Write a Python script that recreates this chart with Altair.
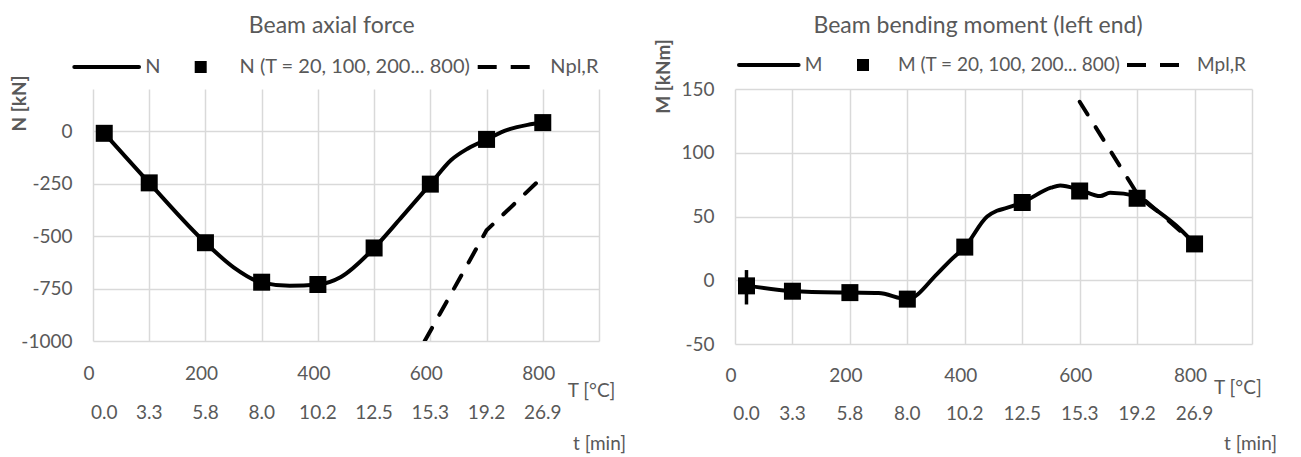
import altair as alt
import pandas as pd

# ---------------- data ----------------
N_curve_T = [20, 100, 200, 250, 300, 350, 400, 441, 500, 547, 600, 637, 667, 700, 737, 773, 800]
N_curve = [-10, -247, -532, -649, -722, -737, -731, -695, -557, -416, -253, -138, -83, -40, 5, 29, 40]
N_mark_T = [20, 100, 200, 300, 400, 500, 600, 700, 800]
N_mark = [-11, -247, -532, -720, -731, -557, -253, -40, 40]
Npl_T = [590, 700, 800]
Npl = [-1000, -473, -218]

M_curve_T = [20, 100, 200, 250, 300, 352, 375, 400, 439, 456, 473, 500, 550, 566, 600, 636, 653, 700, 723, 775, 800]
M_curve = [-4, -8.6, -9.7, -10, -14.8, 5, 15.6, 26, 50, 54.5, 56.7, 61, 72.6, 74.4, 71, 66, 68.7, 66, 58.4, 40, 28.5]
M_mark_T = [20, 100, 200, 300, 400, 500, 600, 700, 800]
M_mark = [-4.4, -8.6, -9.7, -14.8, 26, 61, 70, 64.3, 28.5]
M_spike_T = [20]
M_spike_lo = [-19]
M_spike_hi = [8]
Mpl_T = [600, 700, 800]
Mpl = [140, 68, 29]

T_tick_values = [0, 200, 400, 600, 800]
T_tick_labels = ["0", "200", "400", "600", "800"]
time_T = [20, 100, 200, 300, 400, 500, 600, 700, 800]
time_labels = ["0.0", "3.3", "5.8", "8.0", "10.2", "12.5", "15.3", "19.2", "26.9"]

N_ticks = [-1000, -750, -500, -250, 0]
M_ticks = [-50, 0, 50, 100, 150]

FONT = "Lato"
GREY = "#595959"
GRID = "#d9d9d9"
DUMMY = alt.Data(values=[{"d": 0}])


def panel(curve_T, curve_v, mark_T, mark_v, pl_T, pl_v, ydom, yticks, ytitle,
          title_x, title_y, title, W, H, lg, labels, xlab, spike=None):
    xs = alt.Scale(domain=[0, 900], nice=False, zero=False)
    ys = alt.Scale(domain=ydom, nice=False, zero=False)
    x_enc = alt.X("T:Q", scale=xs, axis=alt.Axis(
        values=list(range(0, 1000, 100)), labels=False, ticks=False, domain=False,
        grid=True, gridColor=GRID, gridWidth=1.5, title=None))
    y_axis = alt.Axis(
        values=yticks, grid=True, gridColor=GRID, gridWidth=1.5, ticks=False,
        domain=False, labelPadding=21, labelFont=FONT, labelFontSize=19,
        labelColor=GREY, labelExpr="'' + datum.value",
        title=ytitle, titleX=title_x, titleY=title_y,
        titleFont=FONT, titleFontSize=19, titleFontWeight="bold",
        titleColor=GREY, titleAlign="center", titleBaseline="middle")
    y_enc = alt.Y("v:Q", scale=ys, axis=y_axis)

    df_curve = pd.DataFrame({"T": curve_T, "v": curve_v})
    df_mark = pd.DataFrame({"T": mark_T, "v": mark_v})
    df_pl = pd.DataFrame({"T": pl_T, "v": pl_v})
    df_tl = pd.DataFrame({"T": T_tick_values, "lab": T_tick_labels})
    df_time = pd.DataFrame({"T": time_T, "lab": time_labels})

    layers = []
    layers.append(alt.Chart(df_curve).mark_line(
        color="black", strokeWidth=4, interpolate="monotone", strokeJoin="round"
    ).encode(x=x_enc, y=y_enc))
    if spike is not None:
        df_sp = pd.DataFrame({"T": spike[0], "v": spike[1], "v2": spike[2]})
        layers.append(alt.Chart(df_sp).mark_rule(color="black", strokeWidth=3.5).encode(
            x=x_enc, y=y_enc, y2="v2:Q"))
    layers.append(alt.Chart(df_pl).mark_line(
        color="black", strokeWidth=4, strokeDash=[15, 15], strokeCap="round", clip=True
    ).encode(x=x_enc, y=y_enc))
    layers.append(alt.Chart(df_mark).mark_point(
        shape="square", filled=True, size=289, color="black", opacity=1
    ).encode(x=x_enc, y=y_enc))
    # x-axis label rows
    layers.append(alt.Chart(df_tl).mark_text(
        font=FONT, fontSize=19, color=GREY, baseline="middle", align="center", dx=-4
    ).encode(x=x_enc, y=alt.value(H + labels[0]), text="lab:N"))
    layers.append(alt.Chart(df_time).mark_text(
        font=FONT, fontSize=19, color=GREY, baseline="middle", align="center"
    ).encode(x=x_enc, y=alt.value(H + labels[1]), text="lab:N"))
    layers.append(alt.Chart(DUMMY).mark_text(
        font=FONT, fontSize=19, color=GREY, baseline="middle", align="left"
    ).encode(x=alt.value(xlab[0]), y=alt.value(H + labels[2]), text=alt.value("T [°C]")))
    layers.append(alt.Chart(DUMMY).mark_text(
        font=FONT, fontSize=19, color=GREY, baseline="middle", align="left"
    ).encode(x=alt.value(xlab[1]), y=alt.value(H + labels[3]), text=alt.value("t [min]")))
    # title
    layers.append(alt.Chart(DUMMY).mark_text(
        font=FONT, fontSize=23, color=GREY, baseline="alphabetic", align="center"
    ).encode(x=alt.value(title[0]), y=alt.value(-56.5), text=alt.value(title[1])))
    # legend
    ly = lg["y"]
    fs = lg["fs"]
    layers.append(alt.Chart(DUMMY).mark_rule(color="black", strokeWidth=4, strokeCap="round").encode(
        x=alt.value(lg["line"][0]), x2=alt.value(lg["line"][1]), y=alt.value(ly)))
    layers.append(alt.Chart(DUMMY).mark_text(
        font=FONT, fontSize=fs, color=GREY, baseline="middle", align="left"
    ).encode(x=alt.value(lg["t1"]), y=alt.value(ly), text=alt.value(lg["s1"])))
    layers.append(alt.Chart(DUMMY).mark_point(
        shape="square", filled=True, size=144, color="black", opacity=1
    ).encode(x=alt.value(lg["sq"]), y=alt.value(ly)))
    layers.append(alt.Chart(DUMMY).mark_text(
        font=FONT, fontSize=fs, color=GREY, baseline="middle", align="left"
    ).encode(x=alt.value(lg["t2"]), y=alt.value(ly), text=alt.value(lg["s2"])))
    layers.append(alt.Chart(DUMMY).mark_rule(color="black", strokeWidth=4, strokeDash=[19, 14]).encode(
        x=alt.value(lg["dash"][0]), x2=alt.value(lg["dash"][1]), y=alt.value(ly)))
    layers.append(alt.Chart(DUMMY).mark_text(
        font=FONT, fontSize=fs, color=GREY, baseline="middle", align="left"
    ).encode(x=alt.value(lg["t3"]), y=alt.value(ly), text=alt.value(lg["s3"])))

    return alt.layer(*layers).properties(width=W, height=H)


left = panel(
    N_curve_T, N_curve, N_mark_T, N_mark, Npl_T, Npl,
    [-1000, 200], N_ticks, "N [kN]", -74, 14,
    (238.7, "Beam axial force"), 506, 252,
    {"y": -22, "fs": 20, "line": (-18.7, 46), "t1": 52.3, "s1": "N", "sq": 107.7,
     "t2": 146.5, "s2": "N (T = 20, 100, 200... 800)", "dash": (384.7, 438.7),
     "t3": 457.3, "s3": "Npl,R"},
    (33, 72, 50, 103), (474.7, 480))

right = panel(
    M_curve_T, M_curve, M_mark_T, M_mark, Mpl_T, Mpl,
    [-50, 150], M_ticks, "M [kNm]", -72, -13,
    (243, "Beam bending moment (left end)"), 517, 255,
    {"y": -24, "fs": 19, "line": (4, 63.6), "t1": 69.8, "s1": "M", "sq": 128,
     "t2": 163, "s2": "M (T = 20, 100, 200... 800)", "dash": (392, 446),
     "t3": 462, "s3": "Mpl,R"},
    (32, 70, 44, 100), (479, 489),
    spike=(M_spike_T, M_spike_lo, M_spike_hi))

chart = alt.hconcat(left, right, spacing=27).properties(
    padding={"left": 2, "top": 6, "right": 0, "bottom": 0},
    background="white",
).configure_view(stroke=None)

chart.save("out.html", embed_options={"renderer": "svg", "actions": False})
